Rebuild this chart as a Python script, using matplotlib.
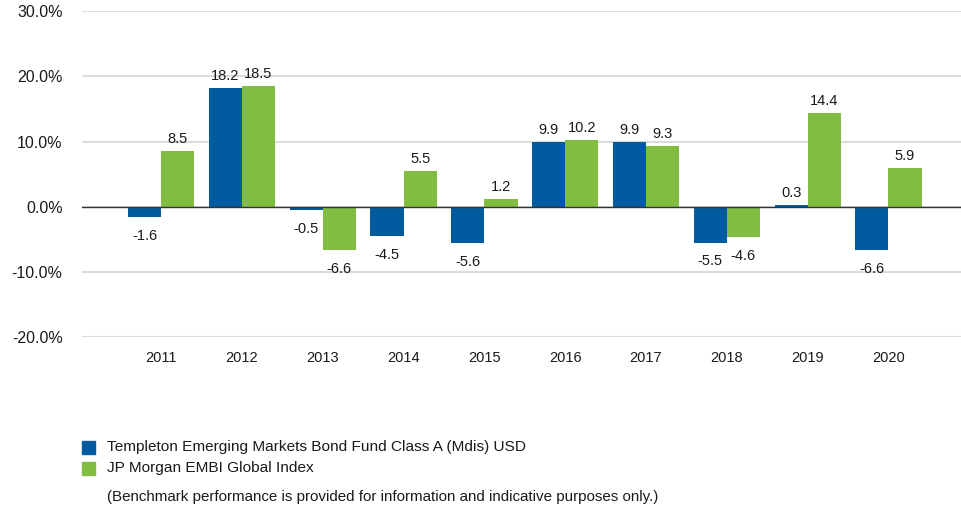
import matplotlib.pyplot as plt
import numpy as np

plt.rcParams['font.family'] = ['Liberation Sans', 'DejaVu Sans']

# данные из графика
years = ['2011', '2012', '2013', '2014', '2015', '2016', '2017', '2018', '2019', '2020']
fund = [-1.6, 18.2, -0.5, -4.5, -5.6, 9.9, 9.9, -5.5, 0.3, -6.6]
index = [8.5, 18.5, -6.6, 5.5, 1.2, 10.2, 9.3, -4.6, 14.4, 5.9]
yticks = [-20, -10, 0, 10, 20, 30]

fund_name = 'Templeton Emerging Markets Bond Fund Class A (Mdis) USD'
index_name = 'JP Morgan EMBI Global Index'
note = '(Benchmark performance is provided for information and indicative purposes only.)'

blue = '#005b9f'
green = '#80bd41'


def podpisi(ax, bars, vals):
    for b, v in zip(bars, vals):
        x = b.get_x() + b.get_width() / 2
        if v >= 0:
            ax.annotate(f'{v:.1f}', (x, v), xytext=(0, 3.5), textcoords='offset points',
                        ha='center', va='bottom', fontsize=10.5, color='#1a1a1a')
        else:
            ax.annotate(f'{v:.1f}', (x, v), xytext=(0, -8.5), textcoords='offset points',
                        ha='center', va='top', fontsize=10.5, color='#1a1a1a')


def main():
    fig = plt.figure(figsize=(9.62, 5.07), dpi=100)
    ax = fig.add_axes([0.0852, 0.335, 0.9148, 0.643])

    x = np.arange(len(years))
    w = 0.41
    b1 = ax.bar(x - w / 2, fund, w, color=blue, zorder=3)
    b2 = ax.bar(x + w / 2, index, w, color=green, zorder=3)
    podpisi(ax, b1, fund)
    podpisi(ax, b2, index)

    ax.set_ylim(-20, 30)
    ax.set_xlim(-0.98, 9.91)
    ax.set_yticks(yticks)
    ax.set_yticklabels([f'{t:.1f}%' for t in yticks], fontsize=11.5, color='#1a1a1a')
    ax.set_xticks(x)
    ax.set_xticklabels(years, fontsize=10.5, color='#1a1a1a')
    ax.tick_params(axis='y', length=0, pad=14)
    ax.tick_params(axis='x', length=0, pad=10)

    ax.grid(axis='y', color='#dcdcdc', linewidth=1.5, zorder=0)
    ax.axhline(0, color='#333333', linewidth=1, zorder=4)
    for s in ax.spines.values():
        s.set_visible(False)

    # легенда и примечание
    fig.patches.append(plt.Rectangle((82 / 962, 1 - 454 / 507), 13 / 962, 13 / 507,
                                     transform=fig.transFigure, color=blue))
    fig.patches.append(plt.Rectangle((82 / 962, 1 - 475 / 507), 13 / 962, 13 / 507,
                                     transform=fig.transFigure, color=green))
    fig.text(107 / 962, 1 - 447 / 507, fund_name, fontsize=11.1, va='center', color='#1a1a1a')
    fig.text(107 / 962, 1 - 468 / 507, index_name, fontsize=11.1, va='center', color='#1a1a1a')
    fig.text(107 / 962, 1 - 497 / 507, note, fontsize=10.9, va='center', color='#1a1a1a')

    fig.savefig('out.png', dpi=100)


if __name__ == '__main__':
    main()
